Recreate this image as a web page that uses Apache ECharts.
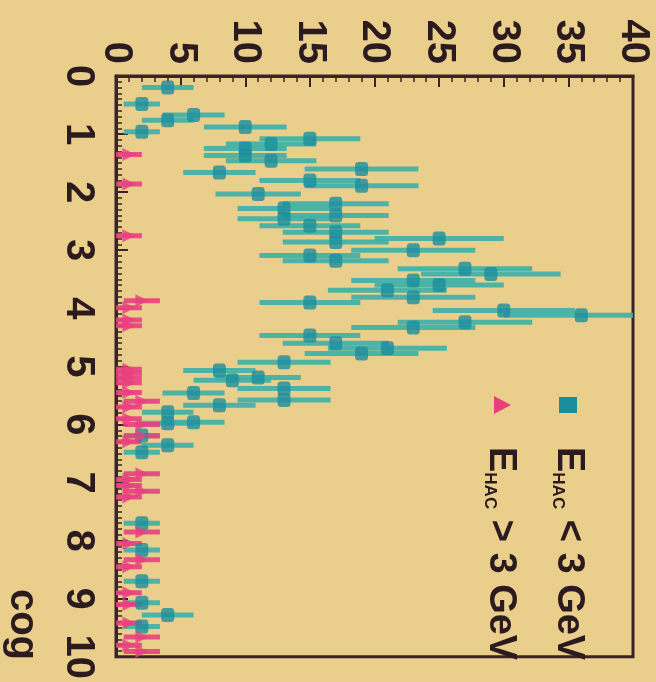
<!DOCTYPE html>
<html><head><meta charset="utf-8">
<script src="https://cdn.jsdelivr.net/npm/echarts@6/dist/echarts.min.js"></script>
<style>html,body{margin:0;padding:0;background:#E9CE8C}#c{width:656px;height:682px}</style>
</head><body><div id="c"></div><script>
// x: cog (drawn vertically), y: counts (drawn horizontally)
const lowCog = [0.2,0.48,0.67,0.76,0.88,0.96,1.08,1.17,1.25,1.37,1.46,1.6,1.66,1.8,1.89,2.03,2.2,2.28,2.4,2.46,2.58,2.69,2.8,2.86,3.0,3.09,3.18,3.32,3.41,3.52,3.6,3.69,3.81,3.9,4.04,4.12,4.24,4.33,4.47,4.6,4.69,4.78,4.93,5.07,5.19,5.24,5.38,5.46,5.58,5.67,5.79,5.96,5.98,6.19,6.36,6.48,7.7,8.16,8.7,9.07,9.28,9.48];
const lowCounts = [4,2,6,4,10,2,15,12,10,10,12,19,8,15,19,11,17,13,17,13,15,17,25,17,23,15,17,27,29,23,25,21,23,15,30,36,27,23,15,17,21,19,13,8,11,9,13,6,13,8,4,6,4,2,4,2,2,2,2,2,4,2];
const lowErr = [2.0,1.4,2.4,2.0,3.2,1.4,3.9,3.5,3.2,3.2,3.5,4.4,2.8,3.9,4.4,3.3,4.1,3.6,4.1,3.6,3.9,4.1,5.0,4.1,4.8,3.9,4.1,5.2,5.4,4.8,5.0,4.6,4.8,3.9,5.5,6.0,5.2,4.8,3.9,4.1,4.6,4.4,3.6,2.8,3.3,3.0,3.6,2.4,3.6,2.8,2.0,2.4,2.0,1.4,2.0,1.4,1.4,1.4,1.4,1.4,2.0,1.4];
const highCog = [1.35,1.86,2.75,3.87,3.99,4.2,4.3,5.05,5.12,5.2,5.28,5.45,5.6,5.7,5.9,6.0,6.2,6.3,6.85,6.95,7.05,7.15,7.25,7.85,8.05,8.33,8.45,8.9,9.1,9.42,9.66,9.8,9.91];
const highCounts = [1,1,1,2,1,1,1,1,1,1,1,1,2,1,1,2,2,1,2,1,1,2,1,2,1,2,1,1,1,1,2,1,2];
const highErr = [1.0,1.0,1.0,1.4,1.0,1.0,1.0,1.0,1.0,1.0,1.0,1.0,1.4,1.0,1.0,1.4,1.4,1.0,1.4,1.0,1.0,1.4,1.0,1.4,1.0,1.4,1.0,1.0,1.0,1.0,1.4,1.0,1.4];
const countTicks = {min:0, max:40, interval:5};
const cogTicks = {min:0, max:10, interval:1};
const legendLow = 'E_HAC < 3 GeV';
const legendHigh = 'E_HAC > 3 GeV';

const TEAL = '#1B8E9D', TEAL_BAR = '#3DB0AA', PINK = '#E8407F';
const INK = '#2b1b1e', FRAME = '#3a2427';
const FONT = "'Liberation Sans Narrow','Liberation Sans',Arial,sans-serif";

function errSeries(cogs, counts, errs, color) {
  return {
    type: 'custom', clip: true, z: 2, silent: true,
    data: cogs.map((c, i) => [counts[i], c, errs[i]]),
    encode: {x: 0, y: 1},
    renderItem(params, api) {
      const v = api.value(0), c = api.value(1), e = api.value(2);
      const p1 = api.coord([v - e, c]), p2 = api.coord([v + e, c]);
      return {type: 'line', shape: {x1: p1[0], y1: p1[1], x2: p2[0], y2: p2[1]},
        style: {stroke: color, lineWidth: 5, opacity: 0.9}};
    }
  };
}

const chart = echarts.init(document.getElementById('c'));
const axisLabelStyle = {color: INK, fontFamily: FONT, fontWeight: 'bold', fontSize: 40, rotate: -90};
chart.setOption({
  backgroundColor: '#E9CE8C',
  animation: false,
  grid: {left: 116, top: 76, right: 23, bottom: 25, show: true, borderColor: FRAME, borderWidth: 3, backgroundColor: 'transparent'},
  xAxis: {
    type: 'value', position: 'top', min: countTicks.min, max: countTicks.max, interval: countTicks.interval,
    axisLine: {show: true, lineStyle: {color: FRAME, width: 3}},
    axisTick: {show: true, inside: true, length: 11, lineStyle: {color: FRAME, width: 2}},
    minorTick: {show: true, splitNumber: 5, length: 6, lineStyle: {color: FRAME, width: 1.5}},
    splitLine: {show: false},
    axisLabel: Object.assign({margin: 12}, axisLabelStyle)
  },
  yAxis: {
    type: 'value', inverse: true, min: cogTicks.min, max: cogTicks.max, interval: cogTicks.interval,
    axisLine: {show: true, lineStyle: {color: FRAME, width: 3}},
    axisTick: {show: true, inside: true, length: 12, lineStyle: {color: FRAME, width: 2}},
    minorTick: {show: true, splitNumber: 10, length: 6, lineStyle: {color: FRAME, width: 1.5}},
    splitLine: {show: false},
    axisLabel: Object.assign({margin: 18}, axisLabelStyle)
  },
  graphic: [
    {type: 'text', x: 22, y: 660, rotation: -Math.PI / 2,
      style: {text: 'cog', fill: INK, font: 'bold 40px ' + FONT, align: 'right', verticalAlign: 'middle'}},
    {type: 'rect', shape: {x: 559, y: 397, width: 18, height: 16}, style: {fill: TEAL}},
    {type: 'polygon', shape: {points: [[494, 396], [494, 414], [511, 405]]}, style: {fill: PINK}},
    {type: 'text', x: 568, y: 447, rotation: -Math.PI / 2,
      style: {text: '{e|E}{s|HAC}{t| < 3 GeV}', fill: INK, align: 'left', verticalAlign: 'middle',
        rich: {e: {fontSize: 38, fontWeight: 'bold', fontFamily: FONT, fill: INK},
               s: {fontSize: 17, fontWeight: 'bold', fontFamily: FONT, fill: INK, verticalAlign: 'bottom'},
               t: {fontSize: 38, fontWeight: 'bold', fontFamily: FONT, fill: INK}}}},
    {type: 'text', x: 500, y: 447, rotation: -Math.PI / 2,
      style: {text: '{e|E}{s|HAC}{t| > 3 GeV}', fill: INK, align: 'left', verticalAlign: 'middle',
        rich: {e: {fontSize: 38, fontWeight: 'bold', fontFamily: FONT, fill: INK},
               s: {fontSize: 17, fontWeight: 'bold', fontFamily: FONT, fill: INK, verticalAlign: 'bottom'},
               t: {fontSize: 38, fontWeight: 'bold', fontFamily: FONT, fill: INK}}}}
  ],
  series: [
    errSeries(lowCog, lowCounts, lowErr, TEAL_BAR),
    errSeries(highCog, highCounts, highErr, PINK),
    {type: 'scatter', name: legendLow, z: 3, symbol: 'roundRect', symbolSize: [13, 14], itemStyle: {color: TEAL},
      data: lowCog.map((c, i) => [lowCounts[i], c])},
    {type: 'scatter', name: legendHigh, z: 3, symbol: 'triangle', symbolRotate: -90, symbolSize: 13, itemStyle: {color: PINK},
      data: highCog.map((c, i) => [highCounts[i], c])}
  ]
});
</script></body></html>
